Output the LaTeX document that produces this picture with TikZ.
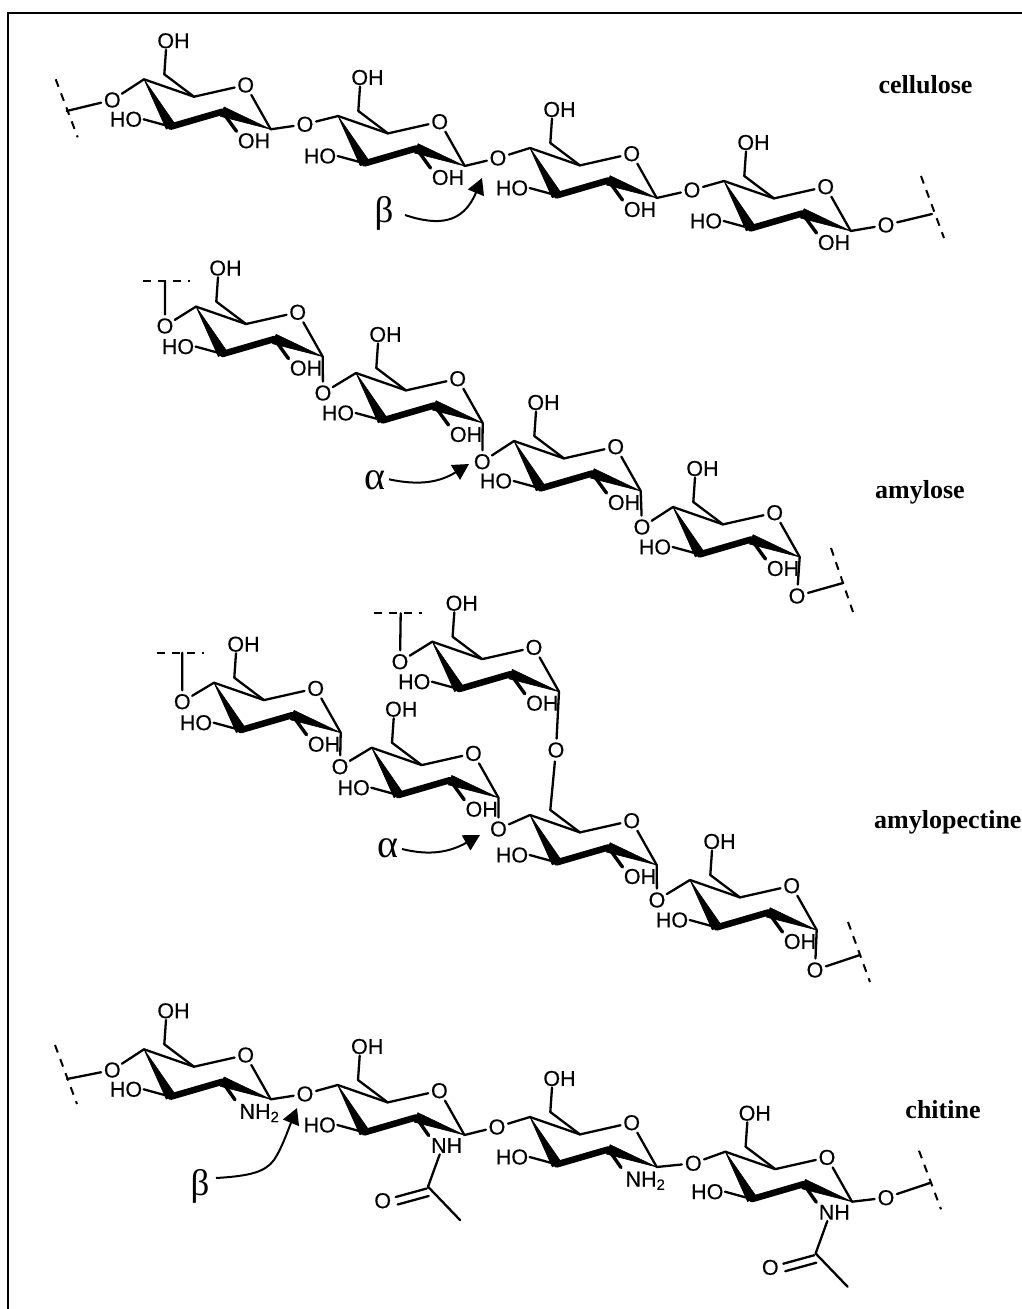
\documentclass[tikz,border=0pt]{standalone}
\usepackage{fontspec}
\setmainfont{Liberation Serif}
\setsansfont{Liberation Sans}[FakeBold=0.35]
\usetikzlibrary{arrows.meta}
\tikzset{
  x=1pt,y=-1pt,
  bond/.style={line width=2.3pt,line cap=round,line join=round},
  thickbond/.style={line width=6.5pt,line join=round,line cap=round},
  midbond/.style={line width=3.4pt,line cap=round},
  dashbond/.style={line width=2pt,dash pattern=on 8pt off 7pt},
  wedge/.style={fill=black,draw=black,line width=.6pt,line join=round},
  atomO/.style={circle,inner sep=0pt,minimum size=20pt,font=\fontsize{21.5}{21.5}\selectfont\sffamily},
  atomT/.style={inner sep=0pt,outer sep=1.5pt,font=\fontsize{21.5}{21.5}\selectfont\sffamily},
  title/.style={inner sep=0pt,font=\fontsize{26}{26}\selectfont\bfseries},
  greekb/.style={inner sep=0pt,font=\fontsize{37}{37}\selectfont},
  greeka/.style={inner sep=0pt,font=\fontsize{40}{40}\selectfont},
  curved/.style={line width=2pt,-{Stealth[length=16pt,width=17pt,inset=0pt]}},
}
% ring skeleton: #1 name prefix, #2 x, #3 y of C4
\newcommand{\sugarcore}[3]{%
\begin{scope}[shift={(#2,#3)}]
  \coordinate (#1c4) at (0,0);
  \coordinate (#1c5) at (50,17.4);
  \coordinate (#1c1) at (126.7,50);
  \coordinate (#1c2) at (78.3,32.4);
  \coordinate (#1c3) at (26.7,47.4);
  \coordinate (#1c6) at (20.3,-5);
  \node[atomO] (#1o) at (101.7,5.7) {O};
  \node[atomT] (#1ho) at (-18,40) {HO};
  \draw[bond] (#1c4) -- (#1c5) -- (#1o) -- (#1c1);
  \draw[bond] (#1c5) -- (#1c6);
  \draw[bond] (#1c3) -- (#1ho.east);
  \fill[wedge] (0,0) -- (31.1,44.9) -- (22.3,49.9) -- cycle;
  \draw[thickbond] (#1c3) -- (#1c2);
  \fill[wedge] (#1c1) -- (80.1,27.7) -- (76.5,37.1) -- cycle;
\end{scope}}
% primary OH on top
\newcommand{\topoh}[3]{%
\begin{scope}[shift={(#2,#3)}]
  \node[atomT] (#1oh) at (29.5,-38.5) {OH};
  \draw[bond] (#1c6) -- ([xshift=-7.5pt]#1oh.south);
\end{scope}}
% secondary OH at C2
\newcommand{\lowoh}[3]{%
\begin{scope}[shift={(#2,#3)}]
  \coordinate (#1e) at (92.5,52);
  \node[atomT] (#1l) at (110,61.5) {OH};
  \draw[midbond] (#1c2) -- (#1e);
\end{scope}}
\newcommand{\nhtwo}[3]{%
\begin{scope}[shift={(#2,#3)}]
  \coordinate (#1e) at (91,50.5);
  \node[atomT,anchor=base west] (#1n) at (94,69.5) {NH\textsubscript{2}};
  \draw[midbond] (#1c2) -- (#1e);
\end{scope}}
\newcommand{\acetamido}[3]{%
\begin{scope}[shift={(#2,#3)}]
  \coordinate (#1e) at (91,50.5);
  \node[atomT] (#1n) at (109,60.5) {NH};
  \draw[midbond] (#1c2) -- (#1e);
  \coordinate (#1co) at (90.3,101.7);
  \coordinate (#1me) at (122.3,135);
  \node[atomO] (#1ox) at (45,115.7) {O};
  \draw[bond] ([xshift=-7pt]#1n.south) -- (#1co) -- (#1me);
  \draw[bond] (58,112) -- (89,103.5);
  \draw[bond] (60,119.5) -- (91,111);
\end{scope}}
\begin{document}
\begin{tikzpicture}
\useasboundingbox (0,0) rectangle (1022,1309);
\fill[white] (0,0) rectangle (1022,1309);
\coordinate (fa) at (8,1309);
\coordinate (fb) at (8,13);
\coordinate (fc) at (1022,13);
\draw[line width=2pt] (fa) -- (fb) -- (fc);

% ---------- cellulose
\sugarcore{a}{144}{79.3}\topoh{a}{144}{79.3}\lowoh{a}{144}{79.3}
\sugarcore{b}{338}{116}\topoh{b}{338}{116}\lowoh{b}{338}{116}
\sugarcore{c}{530}{148}\topoh{c}{530}{148}\lowoh{c}{530}{148}
\sugarcore{d}{724}{181}\topoh{d}{724}{181}\lowoh{d}{724}{181}
\node[atomO] (al) at (112.3,100) {O};
\node[atomO] (ab) at (305,124.3) {O};
\node[atomO] (bc) at (498,158) {O};
\node[atomO] (cd) at (692,190) {O};
\node[atomO] (dr) at (886,225) {O};
\coordinate (aend) at (66.7,111);
\coordinate (aeu) at (55.7,79.3);
\coordinate (aed) at (77.7,137.3);
\coordinate (dend) at (932,214);
\coordinate (deu) at (921,176);
\coordinate (ded) at (944,238);
\draw[bond] (ac4) -- (al) -- (aend);
\draw[dashbond] (aeu) -- (aed);
\draw[bond] (ac1) -- (ab) -- (bc4);
\draw[bond] (bc1) -- (bc) -- (cc4);
\draw[bond] (cc1) -- (cd) -- (dc4);
\draw[bond] (dc1) -- (dr) -- (dend);
\draw[dashbond] (deu) -- (ded);
\node[title] (t1) at (925.5,85) {cellulose};
\node[greekb] (g1) at (384,213) {β};
\coordinate (g1t) at (482,178);
\coordinate (g1s) at (405,215);
\draw[curved] (g1s) .. controls (438,226) and (463,224) .. (g1t);

% ---------- amylose
\sugarcore{e}{196}{306.6}\topoh{e}{196}{306.6}\lowoh{e}{196}{306.6}
\sugarcore{f}{356}{373}\topoh{f}{356}{373}\lowoh{f}{356}{373}
\sugarcore{g}{514}{441}\topoh{g}{514}{441}\lowoh{g}{514}{441}
\sugarcore{h}{673}{507}\topoh{h}{673}{507}\lowoh{h}{673}{507}
\node[atomO] (el) at (165,326) {O};
\node[atomO] (ef) at (323,393) {O};
\node[atomO] (fg) at (482.3,461.7) {O};
\node[atomO] (gh) at (642,527) {O};
\node[atomO] (hr) at (797,596) {O};
\coordinate (elt) at (165,281);
\coordinate (ela) at (143,281);
\coordinate (elb) at (190,281);
\coordinate (hend) at (843,583);
\coordinate (heu) at (831,548);
\coordinate (hed) at (853,612);
\draw[bond] (ec4) -- (el) -- (elt);
\draw[dashbond] (ela) -- (elb);
\draw[bond] (ec1) -- (ef) -- (fc4);
\draw[bond] (fc1) -- (fg) -- (gc4);
\draw[bond] (gc1) -- (gh) -- (hc4);
\draw[bond] (hc1) -- (hr) -- (hend);
\draw[dashbond] (heu) -- (hed);
\node[title] (t2) at (920,492) {amylose};
\node[greeka] (g2) at (375,480) {α};
\coordinate (g2t) at (469,464);
\coordinate (g2s) at (389,479.3);
\draw[curved] (g2s) .. controls (420,486) and (440,482) .. (g2t);

% ---------- amylopectine
\sugarcore{i}{214}{682.7}\topoh{i}{214}{682.7}\lowoh{i}{214}{682.7}
\sugarcore{j}{371.7}{747.7}\topoh{j}{371.7}{747.7}\lowoh{j}{371.7}{747.7}
\sugarcore{k}{432.3}{641.7}\topoh{k}{432.3}{641.7}\lowoh{k}{432.3}{641.7}
\sugarcore{l}{530}{815}\lowoh{l}{530}{815}
\sugarcore{m}{690}{880}\topoh{m}{690}{880}\lowoh{m}{690}{880}
\node[atomO] (il) at (182.3,701.7) {O};
\node[atomO] (ij) at (340,766.7) {O};
\node[atomO] (kl) at (400,661.7) {O};
\node[atomO] (kx) at (556,750) {O};
\node[atomO] (jl) at (498.5,829) {O};
\node[atomO] (lm) at (657,900) {O};
\node[atomO] (mr) at (815,970) {O};
\coordinate (ilt) at (182.3,652.7);
\coordinate (ila) at (156.7,652.7);
\coordinate (ilb) at (204,652.7);
\coordinate (klt) at (400.7,613.3);
\coordinate (kla) at (374.3,613.3);
\coordinate (klb) at (421.7,613.3);
\coordinate (mend) at (860,955);
\coordinate (meu) at (848,922);
\coordinate (med) at (870,982);
\draw[bond] (ic4) -- (il) -- (ilt);
\draw[dashbond] (ila) -- (ilb);
\draw[bond] (ic1) -- (ij) -- (jc4);
\draw[bond] (kc4) -- (kl) -- (klt);
\draw[dashbond] (kla) -- (klb);
\draw[bond] (kc1) -- (kx) -- (lc6);
\draw[bond] (jc1) -- (jl) -- (lc4);
\draw[bond] (lc1) -- (lm) -- (mc4);
\draw[bond] (mc1) -- (mr) -- (mend);
\draw[dashbond] (meu) -- (med);
\node[title,anchor=west] (t3) at (874,822) {amylopectine};
\node[greeka] (g3) at (388,848) {α};
\coordinate (g3t) at (480,835);
\coordinate (g3s) at (402,849);
\draw[curved] (g3s) .. controls (430,856) and (450,852) .. (g3t);

% ---------- chitine
\sugarcore{n}{144}{1049.3}\topoh{n}{144}{1049.3}\nhtwo{n}{144}{1049.3}
\sugarcore{p}{337.7}{1085}\topoh{p}{337.7}{1085}\acetamido{p}{337.7}{1085}
\sugarcore{q}{530}{1117}\topoh{q}{530}{1117}\nhtwo{q}{530}{1117}
\sugarcore{r}{725.3}{1151.7}\topoh{r}{725.3}{1151.7}\acetamido{r}{725.3}{1151.7}
\node[atomO] (nl) at (112.3,1070) {O};
\node[atomO] (np) at (305,1094) {O};
\node[atomO] (pq) at (497,1127) {O};
\node[atomO] (qr) at (693.3,1163.3) {O};
\node[atomO] (rr) at (886,1197.7) {O};
\coordinate (nend) at (67,1079);
\coordinate (neu) at (55,1045);
\coordinate (ned) at (77,1104);
\coordinate (rend) at (930.7,1182.7);
\coordinate (reu) at (919,1150.7);
\coordinate (red) at (941,1209.3);
\draw[bond] (nc4) -- (nl) -- (nend);
\draw[dashbond] (neu) -- (ned);
\draw[bond] (nc1) -- (np) -- (pc4);
\draw[bond] (pc1) -- (pq) -- (qc4);
\draw[bond] (qc1) -- (qr) -- (rc4);
\draw[bond] (rc1) -- (rr) -- (rend);
\draw[dashbond] (reu) -- (red);
\node[title] (t4) at (943,1110) {chitine};
\node[greekb] (g4) at (200,1186) {β};
\coordinate (g4t) at (297,1108);
\coordinate (g4s) at (216,1178);
\draw[curved] (g4s) .. controls (250,1176) and (265,1172) .. (274,1160) .. controls (282,1148) and (288,1130) .. (g4t);
\end{tikzpicture}
\end{document}
